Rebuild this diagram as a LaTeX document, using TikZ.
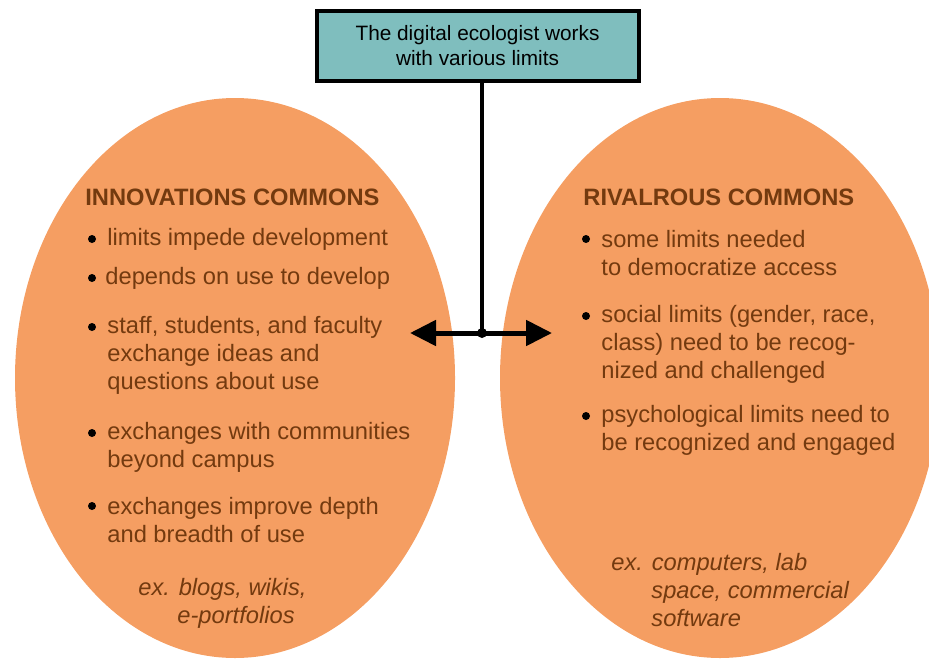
\documentclass[tikz,border=0pt]{standalone}
\usepackage{fontspec}
\setmainfont{Liberation Sans}
\usetikzlibrary{shapes,arrows.meta,positioning,calc}
\definecolor{commonsfill}{RGB}{245,158,98}
\definecolor{textbrown}{RGB}{115,58,15}
\definecolor{ecoteal}{RGB}{127,190,190}

\begin{document}
\begin{tikzpicture}[x=0.5pt,y=-0.5pt]
  \tikzstyle{commons}=[ellipse, fill=commonsfill, minimum width=220pt, minimum height=280pt, inner sep=0]
  \tikzstyle{head}=[font=\fontsize{11.85}{14}\selectfont\bfseries, text=textbrown, anchor=west, inner sep=0]
  \tikzstyle{item}=[font=\fontsize{11.85}{14}\selectfont, text=textbrown, anchor=west, align=left, inner sep=0]
  \tikzstyle{example}=[item, font=\fontsize{11.85}{14}\selectfont\itshape]
  \tikzstyle{bul}=[circle, fill=black, inner sep=0, minimum size=4pt]
  \useasboundingbox (0,0) rectangle (929,658);

  % Commons
  \node[commons] (inno) at (235,378) {};
  \node[commons] (rival) at (720,378) {};

  % Ecologist
  \node[draw, line width=2pt, fill=ecoteal, minimum width=161pt, minimum height=35pt, align=center, font=\fontsize{10.4}{12.5}\selectfont] (title) at (477.5,46) {The digital ecologist works\\with various limits};

  % Innovations commons
  \node[head] (innohead) at (85,197) {INNOVATIONS COMMONS};
  \node[item] (i1) at (107,239) {limits impede development};
  \node[item] (i2) at (105,278) {depends on use to develop};
  \node[item] (i3) at (107,355) {staff, students, and faculty\\exchange ideas and\\questions about use};
  \node[item] (i4) at (107,447) {exchanges with communities\\beyond campus};
  \node[item] (i5) at (107,520) {exchanges improve depth\\and breadth of use};
  \node[example] (iex) at (138,603.5) {ex. blogs, wikis,\\\hspace*{19.5pt}e-portfolios};
  \node[bul] (ib1) at (92,239) {};
  \node[bul] (ib2) at (92,278) {};
  \node[bul] (ib3) at (92,327) {};
  \node[bul] (ib4) at (92,433) {};
  \node[bul] (ib5) at (92,506) {};

  % Rivalrous commons
  \node[head] (rivalhead) at (583,197) {RIVALROUS COMMONS};
  \node[item] (r1) at (601,253) {some limits needed\\to democratize access};
  \node[item] (r2) at (601,344) {social limits (gender, race,\\class) need to be recog-\\nized and challenged};
  \node[item] (r3) at (601,430) {psychological limits need to\\be recognized and engaged};
  \node[example] (rex) at (611,590) {ex. computers, lab\\\hspace*{20pt}space, commercial\\\hspace*{20pt}software};
  \node[bul] (rb1) at (586,239) {};
  \node[bul] (rb2) at (586,316) {};
  \node[bul] (rb3) at (586,416) {};

  % Connections
  \node[bul, minimum size=5pt] (hub) at (482,333) {};
  \coordinate (lend) at (410,333);
  \coordinate (rend) at (552,333);
  \draw[line width=2pt] (title.south -| hub) -- (hub.center);
  \draw[line width=2.5pt, {Triangle[length=13pt,width=12.5pt]}-{Triangle[length=13pt,width=12.5pt]}] (lend) -- (rend);
\end{tikzpicture}
\end{document}
